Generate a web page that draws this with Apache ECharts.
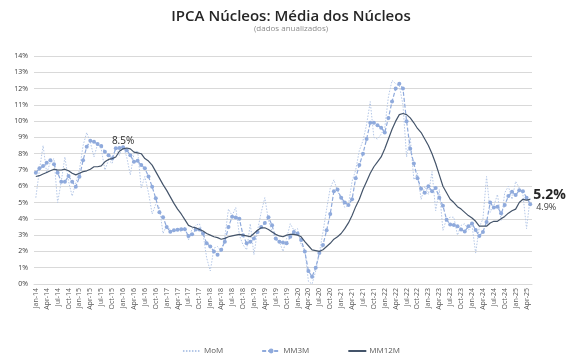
<!DOCTYPE html>
<html>
<head>
<meta charset="utf-8">
<script src="https://cdn.jsdelivr.net/npm/echarts@6/dist/echarts.min.js"></script>
<style>html,body{margin:0;padding:0;background:#fff}#c{width:582px;height:363px}</style>
</head>
<body>
<div id="c"></div>
<script>
// Months Jan-14 .. May-25
const monthNames = ['Jan','Feb','Mar','Apr','May','Jun','Jul','Aug','Sep','Oct','Nov','Dec'];
const categories = [];
for (let y = 14; y <= 25; y++) {
  for (let m = 0; m < 12; m++) {
    if (y === 25 && m > 4) break;
    categories.push(monthNames[m] + '-' + y);
  }
}

const mom = [
  5.3,7.0,8.5,6.8,7.5,7.7,5.0,6.3,7.8,6.3,5.4,6.2,
  7.0,8.5,9.3,8.7,7.8,8.6,8.3,7.0,7.6,7.4,8.4,7.9,
  8.5,7.8,6.7,8.0,8.2,5.9,6.6,5.6,4.3,4.9,4.7,3.1,
  3.6,3.3,3.2,3.4,3.2,3.5,2.7,3.4,3.6,3.7,3.1,1.6,
  0.8,2.2,2.3,2.0,2.9,4.6,4.2,4.7,3.0,2.4,2.1,3.7,
  1.8,3.3,4.4,5.3,3.9,3.2,2.7,2.6,2.0,2.8,3.7,3.3,
  3.4,2.4,2.1,0.15,0.0,0.8,1.9,3.2,4.6,5.9,6.4,5.7,
  5.2,4.7,4.85,6.3,7.0,8.2,8.8,9.8,11.2,9.0,8.9,9.2,
  9.6,11.5,12.5,12.3,12.2,11.0,7.8,9.0,6.4,6.8,5.2,6.0,
  5.5,6.9,4.5,5.8,3.3,4.0,4.1,4.1,3.0,3.6,3.7,3.3,
  3.6,1.9,3.5,4.0,6.6,4.4,4.8,5.5,3.9,5.6,6.0,5.2,
  6.3,5.9,5.5,3.4,5.3
];
const mm3m = [
  6.83,7.1,7.24,7.44,7.6,7.36,6.83,6.28,6.28,6.63,6.28,5.97,
  6.58,7.6,8.42,8.79,8.73,8.59,8.47,8.12,7.91,7.71,8.33,8.35,
  8.39,8.22,7.91,7.5,7.57,7.3,7.1,6.6,5.97,5.26,4.4,4.1,
  3.5,3.21,3.3,3.33,3.36,3.36,2.95,3.05,3.35,3.35,3.1,2.5,
  2.3,2.0,1.8,2.1,2.6,3.5,4.13,4.09,4.0,3.0,2.5,2.6,
  2.8,3.2,3.5,3.75,4.1,3.6,2.8,2.6,2.55,2.5,2.9,3.2,
  3.1,2.7,2.0,0.8,0.45,1.0,1.9,2.4,3.3,4.3,5.7,5.8,
  5.3,5.0,4.85,5.2,6.5,7.3,8.0,8.9,9.9,9.9,9.75,9.6,
  9.3,10.2,11.2,12.0,12.3,12.0,10.0,8.3,7.4,6.5,5.85,5.6,
  6.0,5.7,5.9,5.3,4.8,3.95,3.65,3.62,3.55,3.35,3.22,3.55,
  3.72,3.31,2.95,3.2,3.8,5.0,4.7,4.74,4.34,4.85,5.4,5.66,
  5.46,5.75,5.7,5.3,4.9
];
const mm12m = [
  6.6,6.65,6.75,6.85,6.95,7.05,7.0,7.0,7.05,6.95,6.8,6.7,
  6.8,6.9,6.95,7.05,7.2,7.2,7.25,7.5,7.65,7.7,7.8,8.15,
  8.3,8.35,8.3,8.1,8.05,8.0,7.7,7.55,7.3,6.9,6.5,6.1,
  5.75,5.35,4.95,4.6,4.3,3.95,3.6,3.5,3.45,3.35,3.25,3.1,
  3.0,2.9,2.85,2.75,2.8,2.9,2.95,3.0,3.05,3.0,2.95,2.9,
  3.1,3.3,3.45,3.45,3.35,3.2,3.05,2.95,2.9,3.0,3.05,3.05,
  3.0,2.9,2.6,2.35,2.1,2.05,2.0,2.1,2.3,2.5,2.75,2.9,
  3.1,3.4,3.75,4.2,4.75,5.2,5.8,6.3,6.8,7.2,7.5,7.8,
  8.3,8.9,9.5,10.0,10.4,10.47,10.4,10.2,9.9,9.55,9.3,8.9,
  8.5,8.0,7.4,6.7,6.0,5.6,5.2,5.0,4.75,4.6,4.4,4.2,
  4.05,3.85,3.55,3.55,3.55,3.75,3.85,3.85,4.0,4.15,4.35,4.5,
  4.6,5.0,5.2,5.15,5.2
];
const yTicks = [0,1,2,3,4,5,6,7,8,9,10,11,12,13,14];
const peakLabel = {index: 24, text: '8.5%'};
const lastMM12Label = '5.2%';
const lastMM3Label = '4.9%';

const last = categories.length - 1;
const mm12Data = mm12m.map((v, i) => {
  if (i === peakLabel.index) return {value: v, symbol: 'circle', symbolSize: 0, label: {show: true, position: 'top', distance: 3, formatter: peakLabel.text, fontSize: 10, color: '#262626', fontFamily: 'Open Sans'}};
  if (i === last) return {value: v, symbol: 'circle', symbolSize: 0, label: {show: true, position: 'right', distance: 3, offset: [0, -4], formatter: lastMM12Label, fontSize: 14, fontWeight: 'bold', color: '#262626', fontFamily: 'Open Sans'}};
  return v;
});
const mm3Data = mm3m.map((v, i) => {
  if (i === last) return {value: v, label: {show: true, position: 'right', distance: 4, offset: [0, 3], formatter: lastMM3Label, fontSize: 9, color: '#404040', fontFamily: 'Open Sans'}};
  return v;
});

const chart = echarts.init(document.getElementById('c'), null, {renderer: 'canvas'});
chart.setOption({
  animation: false,
  backgroundColor: '#fff',
  title: {
    text: 'IPCA Núcleos: Média dos Núcleos',
    subtext: '(dados anualizados)',
    left: 'center',
    top: 4,
    itemGap: 1,
    textStyle: {fontFamily: 'Open Sans', fontSize: 15, fontWeight: 600, color: '#262626'},
    subtextStyle: {fontFamily: 'Open Sans', fontSize: 8, color: '#8c8c8c'}
  },
  legend: {
    bottom: 3,
    left: 'center',
    itemGap: 38,
    itemWidth: 18,
    itemHeight: 6,
    textStyle: {fontFamily: 'Open Sans', fontSize: 8, color: '#595959', padding: [0, 0, 0, -2]},
    data: [
      {name: 'MoM', itemStyle: {opacity: 0}},
      {name: 'MM3M'},
      {name: 'MM12M', itemStyle: {opacity: 0}}
    ]
  },
  grid: {left: 34, right: 50, top: 56, bottom: 79, containLabel: false},
  xAxis: {
    type: 'category',
    data: categories,
    boundaryGap: true,
    axisLine: {lineStyle: {color: '#d9d9d9', width: 1}},
    axisTick: {show: false},
    axisLabel: {
      interval: 2,
      rotate: 90,
      fontSize: 7,
      color: '#595959',
      fontFamily: 'Open Sans',
      margin: 4
    }
  },
  yAxis: {
    type: 'value',
    min: yTicks[0],
    max: yTicks[yTicks.length - 1],
    interval: 1,
    axisLine: {show: false},
    axisTick: {show: false},
    splitLine: {lineStyle: {color: '#d9d9d9', width: 1}},
    axisLabel: {formatter: v => v + '%', fontSize: 7, color: '#404040', fontFamily: 'Open Sans', margin: 6}
  },
  series: [
    {
      name: 'MoM', type: 'line', data: mom,
      symbol: 'none',
      lineStyle: {color: '#b4c7e7', width: 1, type: [1.5, 1.5]},
      itemStyle: {color: '#b4c7e7'},
      z: 1
    },
    {
      name: 'MM3M', type: 'line', data: mm3Data,
      symbol: 'circle', symbolSize: 4, showSymbol: true, showAllSymbol: true,
      lineStyle: {color: '#8faadc', width: 1.2, type: [4, 2]},
      itemStyle: {color: '#8faadc'},
      z: 2
    },
    {
      name: 'MM12M', type: 'line', data: mm12Data,
      symbol: 'none', showAllSymbol: true,
      lineStyle: {color: '#44546a', width: 1.2},
      itemStyle: {color: '#44546a'},
      z: 3
    }
  ]
});
</script>
</body>
</html>
